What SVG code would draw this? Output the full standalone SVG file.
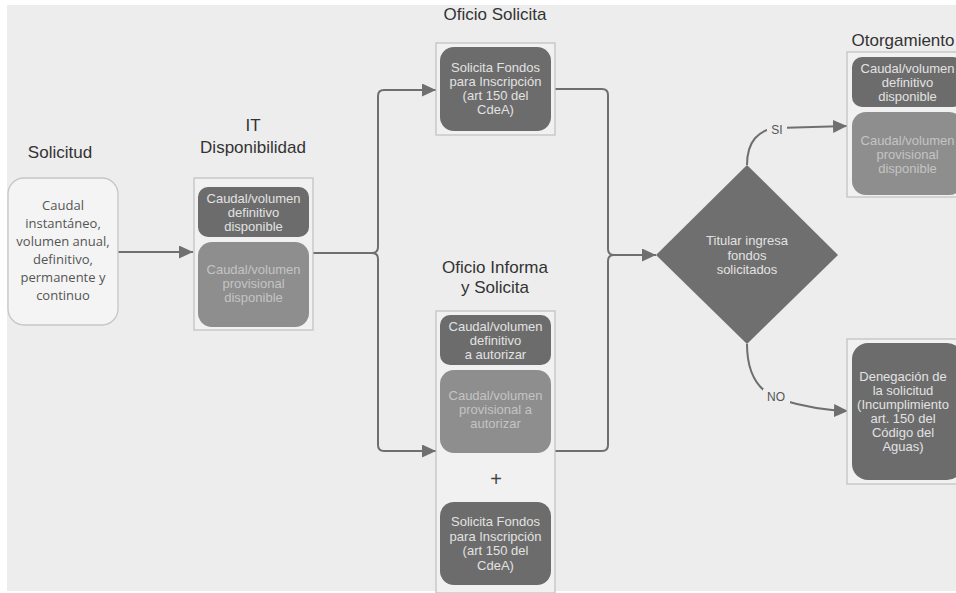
<svg xmlns="http://www.w3.org/2000/svg" width="956" height="593" viewBox="0 0 956 593">
<defs>
<marker id="arr" markerUnits="userSpaceOnUse" markerWidth="15" markerHeight="13" refX="14" refY="6.5" orient="auto">
<path d="M0,0 L14,6.5 L0,13 Z" fill="#6f6f6f"/>
</marker>
<style>
.title{font-family:"Liberation Sans",Arial,sans-serif;font-size:17px;fill:#333;text-anchor:middle}
.cont{fill:#f1f1f1;stroke:#c3c3c3;stroke-width:1.3}
.dark{fill:#6c6c6c}
.light{fill:#8e8e8e}
.tdark{font-family:"Liberation Sans",Arial,sans-serif;font-size:13px;fill:#e2e2e2;text-anchor:middle}
.tlight{font-family:"Liberation Sans",Arial,sans-serif;font-size:13px;fill:#c4c4c4;text-anchor:middle}
.sol{font-family:"Open Sans","Noto Sans",sans-serif;font-size:13px;fill:#555;text-anchor:middle}
.conn{fill:none;stroke:#6f6f6f;stroke-width:2}
.lbl{font-family:"Liberation Sans",Arial,sans-serif;font-size:12px;fill:#555;text-anchor:middle}
</style>
</defs>
<rect x="0" y="0" width="956" height="593" fill="#ffffff"/>
<rect x="7" y="5" width="949" height="586" fill="#ededed"/>

<g id="connectors">
<path class="conn" d="M118 252 H193" marker-end="url(#arr)"/>
<path class="conn" d="M313 253 H372 Q378 253 378 247 V96 Q378 90 384 90 H436" marker-end="url(#arr)"/>
<path class="conn" d="M372 253 Q378 253 378 259 V445 Q378 451 384 451 H436" marker-end="url(#arr)"/>
<path class="conn" d="M555 89 H602 Q608 89 608 95 V249 Q608 255 614 255 H656" marker-end="url(#arr)"/>
<path class="conn" d="M554 451 H602 Q608 451 608 445 V261 Q608 255 614 255"/>
<path class="conn" d="M747 165 C747 142 758 129 778 128 L847 126" marker-end="url(#arr)"/>
<path class="conn" d="M747 344 C747 378 762 394 782 400 Q815 410 848 411" marker-end="url(#arr)"/>
<rect x="767" y="121" width="20" height="16" fill="#ededed"/>
<text class="lbl" x="777" y="134">SI</text>
<rect x="763" y="389" width="27" height="16" fill="#ededed"/>
<text class="lbl" x="776" y="401">NO</text>
</g>

<g id="solicitud">
<text class="title" x="60" y="158" font-size="18">Solicitud</text>
<rect x="8" y="178" width="110" height="147" rx="16" fill="#f4f4f4" stroke="#c6c6c6" stroke-width="1.3"/>
<text class="sol" x="63" y="210">Caudal</text>
<text class="sol" x="63" y="228">instantáneo,</text>
<text class="sol" x="63" y="246">volumen anual,</text>
<text class="sol" x="63" y="264">definitivo,</text>
<text class="sol" x="63" y="282">permanente y</text>
<text class="sol" x="63" y="300">continuo</text>
</g>

<g id="it-disponibilidad">
<text class="title" x="253" y="131">IT</text>
<text class="title" x="253" y="153">Disponibilidad</text>
<rect class="cont" x="194" y="178" width="119" height="152"/>
<rect class="dark" x="198" y="187" width="111" height="50" rx="10"/>
<text class="tdark" x="253.5" y="203">Caudal/volumen</text>
<text class="tdark" x="253.5" y="217">definitivo</text>
<text class="tdark" x="253.5" y="231">disponible</text>
<rect class="light" x="198" y="242" width="111" height="85" rx="14"/>
<text class="tlight" x="253.5" y="274">Caudal/volumen</text>
<text class="tlight" x="253.5" y="288">provisional</text>
<text class="tlight" x="253.5" y="302">disponible</text>
</g>

<g id="oficio-solicita">
<text class="title" x="495" y="20">Oficio Solicita</text>
<rect class="cont" x="436" y="43" width="119" height="92"/>
<rect class="dark" x="440" y="47" width="111" height="84" rx="14"/>
<text class="tdark" x="495.5" y="72">Solicita Fondos</text>
<text class="tdark" x="495.5" y="86">para Inscripción</text>
<text class="tdark" x="495.5" y="100">(art 150 del</text>
<text class="tdark" x="495.5" y="114">CdeA)</text>
</g>

<g id="oficio-informa">
<text class="title" x="495" y="273">Oficio Informa</text>
<text class="title" x="495" y="293">y Solicita</text>
<rect class="cont" x="436" y="311" width="119" height="282"/>
<rect class="dark" x="440" y="315" width="111" height="50" rx="10"/>
<text class="tdark" x="495.5" y="331">Caudal/volumen</text>
<text class="tdark" x="495.5" y="345">definitivo</text>
<text class="tdark" x="495.5" y="359">a autorizar</text>
<rect class="light" x="440" y="370" width="111" height="83" rx="14"/>
<text class="tlight" x="495.5" y="400">Caudal/volumen</text>
<text class="tlight" x="495.5" y="414">provisional a</text>
<text class="tlight" x="495.5" y="428">autorizar</text>
<text x="496" y="486" font-family="Liberation Sans, Arial, sans-serif" font-size="20" fill="#444" text-anchor="middle">+</text>
<rect class="dark" x="440" y="502" width="111" height="83" rx="14"/>
<text class="tdark" x="495.5" y="526">Solicita Fondos</text>
<text class="tdark" x="495.5" y="540.5">para Inscripción</text>
<text class="tdark" x="495.5" y="555">(art 150 del</text>
<text class="tdark" x="495.5" y="569.5">CdeA)</text>
</g>

<g id="decision">
<polygon points="656,255 747,165 838,255 747,344" fill="#6f6f6f"/>
<text class="tdark" x="747" y="245">Titular ingresa</text>
<text class="tdark" x="747" y="259.5">fondos</text>
<text class="tdark" x="747" y="274">solicitados</text>
</g>

<g id="otorgamiento">
<text class="title" x="903" y="46">Otorgamiento</text>
<rect class="cont" x="847" y="52" width="120" height="145"/>
<rect class="dark" x="852" y="57" width="111" height="50" rx="10"/>
<text class="tdark" x="907.5" y="73">Caudal/volumen</text>
<text class="tdark" x="907.5" y="87">definitivo</text>
<text class="tdark" x="907.5" y="101">disponible</text>
<rect class="light" x="852" y="112" width="111" height="83" rx="14"/>
<text class="tlight" x="907.5" y="145">Caudal/volumen</text>
<text class="tlight" x="907.5" y="159">provisional</text>
<text class="tlight" x="907.5" y="173">disponible</text>
</g>

<g id="denegacion">
<rect class="cont" x="847" y="339" width="120" height="145"/>
<rect class="dark" x="852" y="343" width="111" height="137" rx="16"/>
<text class="tdark" x="903" y="381">Denegación de</text>
<text class="tdark" x="903" y="395">la solicitud</text>
<text class="tdark" x="903" y="409">(Incumplimiento</text>
<text class="tdark" x="903" y="423">art. 150 del</text>
<text class="tdark" x="903" y="437">Código del</text>
<text class="tdark" x="903" y="451">Aguas)</text>
</g>
</svg>
